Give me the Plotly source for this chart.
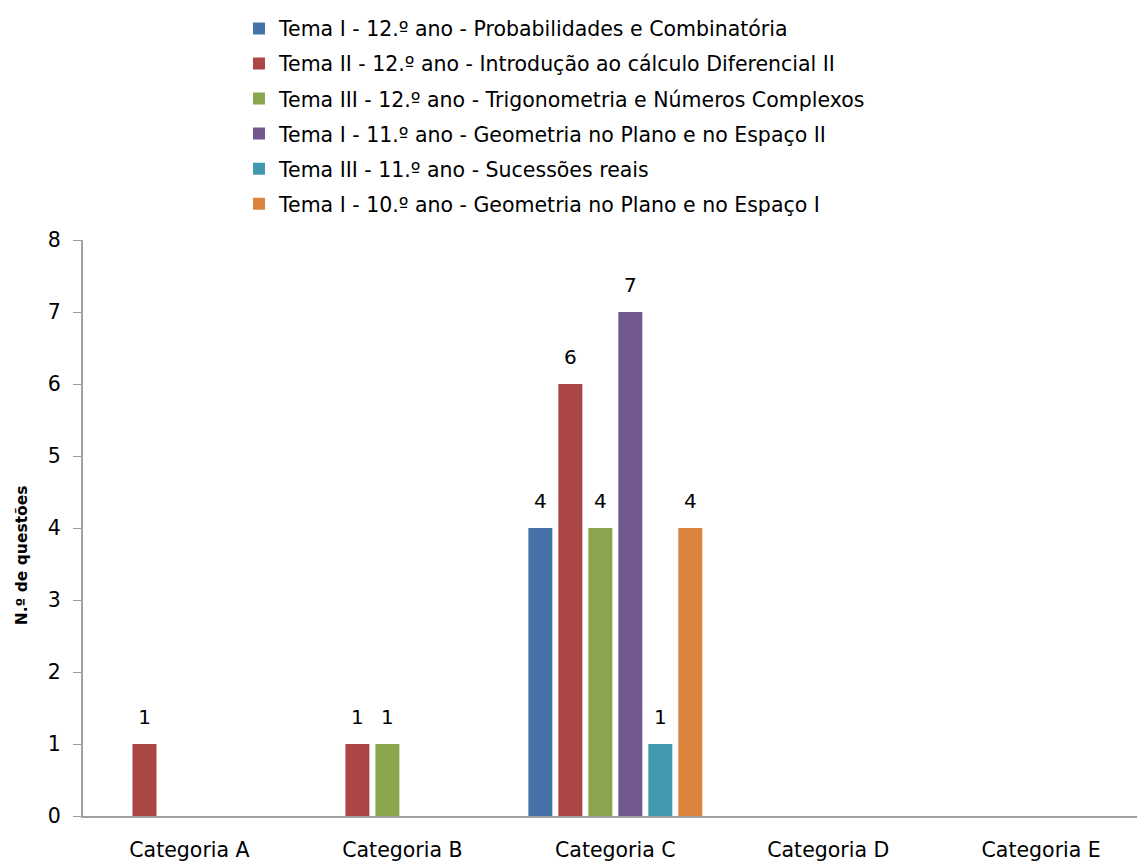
import plotly.graph_objects as go

categories = ["Categoria A", "Categoria B", "Categoria C", "Categoria D", "Categoria E"]
series_names = [
    "Tema I - 12.º ano - Probabilidades e Combinatória",
    "Tema II - 12.º ano - Introdução ao cálculo Diferencial II",
    "Tema III - 12.º ano - Trigonometria e Números Complexos",
    "Tema I - 11.º ano - Geometria no Plano e no Espaço II",
    "Tema III - 11.º ano - Sucessões reais",
    "Tema I - 10.º ano - Geometria no Plano e no Espaço I",
]
tema1_12 = [0, 0, 4, 0, 0]
tema2_12 = [1, 1, 6, 0, 0]
tema3_12 = [0, 1, 4, 0, 0]
tema1_11 = [0, 0, 7, 0, 0]
tema3_11 = [0, 0, 1, 0, 0]
tema1_10 = [0, 0, 4, 0, 0]
series_values = [tema1_12, tema2_12, tema3_12, tema1_11, tema3_11, tema1_10]
colors = ["#4572A7", "#AA4643", "#89A54E", "#71588F", "#4198AF", "#DB843D"]

FONT = "DejaVu Sans"
FS = 20.5
fig = go.Figure()
for i, (name, vals, col) in enumerate(zip(series_names, series_values, colors)):
    texts = [f"<span style='font-size:20px'>{v}</span><br> " if v else "" for v in vals]
    fig.add_trace(go.Bar(
        x=categories, y=vals, name=name,
        marker=dict(color=col, line=dict(width=0)),
        text=texts, textposition="outside", cliponaxis=False,
        constraintext="none",
        textfont=dict(family=FONT, size=11, color="#000000"),
        legendgroup=f"g{i}",
    ))

fig.update_layout(
    width=1137, height=863,
    margin=dict(l=83, r=0, t=240, b=47),
    paper_bgcolor="white", plot_bgcolor="white",
    barmode="group", bargap=0.155, bargroupgap=0.2,
    font=dict(family=FONT, size=FS, color="#000000"),
    showlegend=True,
    legend=dict(
        x=0.148, y=1.4017, xanchor="left", yanchor="top",
        orientation="v", traceorder="grouped", tracegroupgap=5.4,
        font=dict(family=FONT, size=FS, color="#000000"),
        bgcolor="rgba(0,0,0,0)",
    ),
    annotations=[dict(
        text="<b>N.º de questões</b>", textangle=-90,
        xref="paper", yref="paper", x=0, y=0.4527, xshift=-61,
        xanchor="center", yanchor="middle", showarrow=False,
        font=dict(family=FONT, size=15.5, color="#000000"),
    )],
)
fig.update_yaxes(
    range=[0, 8], dtick=1, showgrid=False, zeroline=False,
    showline=True, linecolor="#A0A0A0", linewidth=2,
    ticks="outside", ticklen=8, tickcolor="#A0A0A0", tickwidth=1,
    tickfont=dict(family=FONT, size=FS),
    ticklabelstandoff=8,
)
fig.update_xaxes(
    range=[-0.5, 4.45], showgrid=False, zeroline=False,
    showline=True, linecolor="#A0A0A0", linewidth=2,
    ticks="", tickfont=dict(family=FONT, size=FS),
    ticklabelstandoff=14,
)

fig.write_html("out.html")
